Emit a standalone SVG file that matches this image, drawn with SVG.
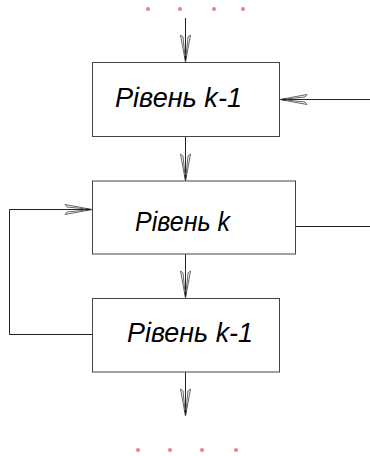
<svg xmlns="http://www.w3.org/2000/svg" width="370" height="456" viewBox="0 0 370 456">
<style>
.box{fill:#fff;stroke:#444;stroke-width:1}
.ln{fill:none;stroke:#222;stroke-width:1}
.lbl{font-family:"Liberation Sans",Arial,sans-serif;font-style:italic;font-size:28px;fill:#000}
.dot{fill:#f08080}
</style>
<defs>
<marker id="ah" markerUnits="userSpaceOnUse" markerWidth="32" markerHeight="14" refX="0" refY="0" viewBox="-29 -7 32 14" orient="auto" overflow="visible">
<path d="M0,0 L-27,-5 L-25,-2.5 Z M0,0 L-27,5 L-25,2.5 Z" fill="none" stroke="#666" stroke-width="1"/>
<path d="M0,0 L-6,-1 L-6,1 Z" fill="#111"/>
</marker>
</defs>
<g id="dots-top">
<circle class="dot" cx="148" cy="9" r="2"/>
<circle class="dot" cx="180" cy="9" r="2"/>
<circle class="dot" cx="214" cy="9" r="2"/>
<circle class="dot" cx="243" cy="9" r="2"/>
</g>
<g id="dots-bottom">
<circle class="dot" cx="138" cy="450" r="2"/>
<circle class="dot" cx="170" cy="450" r="2"/>
<circle class="dot" cx="202" cy="450" r="2"/>
<circle class="dot" cx="236" cy="450" r="2"/>
</g>
<g id="connectors">
<path class="ln" d="M185.5,18 L185.5,62" marker-end="url(#ah)"/>
<path class="ln" d="M370,99.5 L280,99.5" marker-end="url(#ah)"/>
<path class="ln" d="M185.5,137 L185.5,181" marker-end="url(#ah)"/>
<path class="ln" d="M92,334.5 L9.5,334.5 L9.5,209.5 L92,209.5" marker-end="url(#ah)"/>
<path class="ln" d="M295,226.5 L370,226.5"/>
<path class="ln" d="M185.5,254 L185.5,298" marker-end="url(#ah)"/>
<path class="ln" d="M185.5,372 L185.5,416" marker-end="url(#ah)"/>
</g>
<g id="node1">
<rect class="box" x="92.5" y="62.5" width="187" height="74"/>
<text class="lbl" x="115" y="107" textLength="127" lengthAdjust="spacingAndGlyphs">Рівень k-1</text>
</g>
<g id="node2">
<rect class="box" x="92.5" y="181" width="203" height="73"/>
<text class="lbl" x="135" y="231" textLength="95" lengthAdjust="spacingAndGlyphs">Рівень k</text>
</g>
<g id="node3">
<rect class="box" x="92.5" y="298.5" width="187" height="73.5"/>
<text class="lbl" x="127" y="342" textLength="126" lengthAdjust="spacingAndGlyphs">Рівень k-1</text>
</g>
</svg>
